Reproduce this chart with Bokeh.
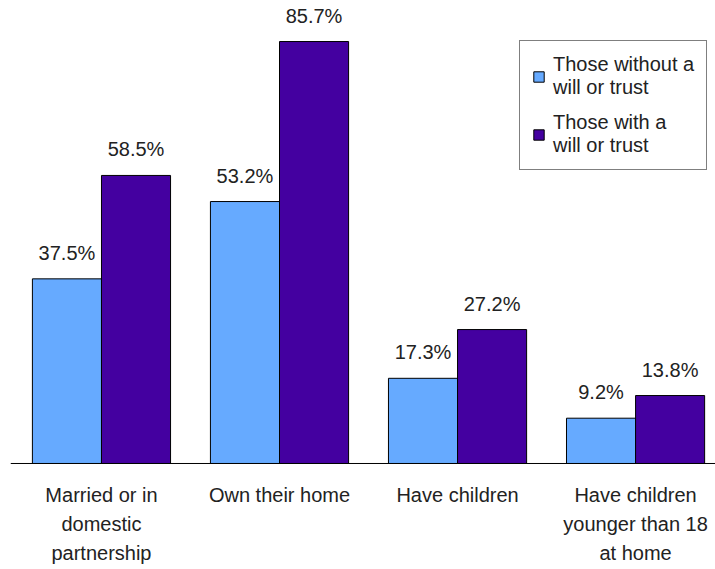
from bokeh.plotting import figure
from bokeh.models import ColumnDataSource, Legend, LegendItem, Range1d, Span
from bokeh.transform import dodge
from bokeh.embed import file_html
from bokeh.resources import INLINE

categories = ["Married or in\ndomestic\npartnership", "Own their home",
              "Have children", "Have children\nyounger than 18\nat home"]
without_will = [37.5, 53.2, 17.3, 9.2]
with_will = [58.5, 85.7, 27.2, 13.8]
series_names = ["Those without a\nwill or trust", "Those with a\nwill or trust"]

FONT = "Liberation Sans"
C1 = "#66AAFF"
C2 = "#4400A0"
TXT = "#222222"

idx = list(range(len(categories)))
src = ColumnDataSource(dict(
    x=idx, a=without_will, b=with_will, cat=categories, zero=[0] * len(idx),
    la=[f"{v:.1f}%" for v in without_will],
    lb=[f"{v:.1f}%" for v in with_will],
))

p = figure(width=715, height=569, output_backend="svg", toolbar_location=None,
           x_range=Range1d(-0.511, 3.449), y_range=Range1d(-21.53, 94.03),
           min_border_left=10, min_border_right=0, min_border_top=0,
           min_border_bottom=0)
p.outline_line_color = None
p.xgrid.visible = False
p.ygrid.visible = False
p.xaxis.visible = False
p.yaxis.visible = False
p.background_fill_color = "white"
p.border_fill_color = "white"

w = 0.388
r1 = p.vbar(x=dodge("x", -w / 2, range=p.x_range), top="a", width=w, source=src,
            fill_color=C1, line_color="black", line_width=1)
r2 = p.vbar(x=dodge("x", w / 2, range=p.x_range), top="b", width=w, source=src,
            fill_color=C2, line_color="black", line_width=1)

# baseline (category axis line)
p.add_layout(Span(location=0, dimension="width", line_color="black", line_width=1))

for col, lab, off in (("a", "la", -w / 2), ("b", "lb", w / 2)):
    p.text(x=dodge("x", off, range=p.x_range), y=col, text=lab, source=src,
           text_align="center", text_baseline="middle", y_offset=-26,
           text_font_size="20px", text_color=TXT,
           text_font={"value": FONT})

# category labels
p.text(x="x", y="zero", text="cat", source=src,
       text_align="center", text_baseline="top", y_offset=21,
       text_font_size="20px", text_color=TXT, text_line_height=1.3,
       text_font={"value": FONT})

legend = Legend(items=[LegendItem(label=series_names[0], renderers=[r1]),
                       LegendItem(label=series_names[1], renderers=[r2])],
                location=(509, 399))
legend.border_line_color = "black"
legend.border_line_width = 1
legend.label_text_font = FONT
legend.label_text_font_size = "20px"
legend.label_text_color = TXT
legend.glyph_width = 13
legend.glyph_height = 13
legend.padding = 12
legend.spacing = 12
legend.margin = 0
legend.label_standoff = 8
p.add_layout(legend, "center")

open("out.html", "w").write(file_html(p, INLINE))
